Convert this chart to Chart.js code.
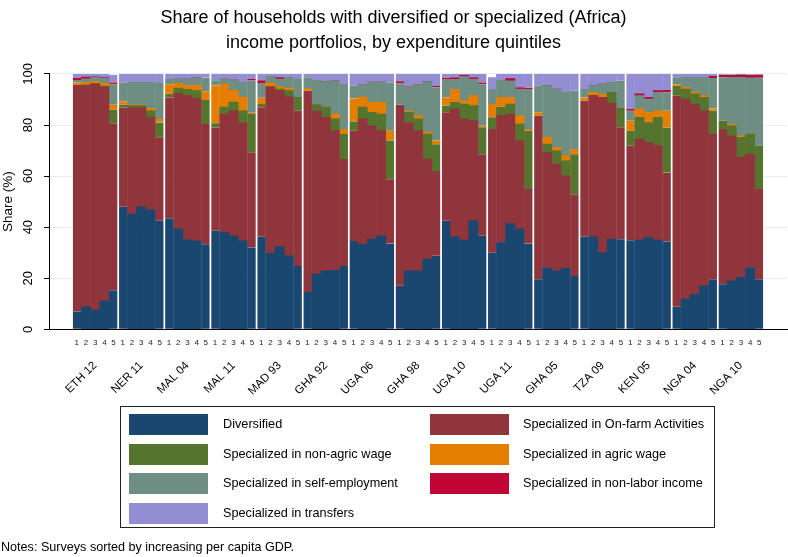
<!DOCTYPE html>
<html>
<head>
<meta charset="utf-8">
<script src="https://cdn.jsdelivr.net/npm/chart.js@4"></script>
<style>
  body { margin: 0; background: #fff; font-family: 'Liberation Sans', Arial, sans-serif; }
  #wrap { position: relative; width: 788px; height: 557px; }
  #legend { position: absolute; left: 120px; top: 406px; width: 593px; height: 120px; border: 1px solid #222; }
  .sw { position: absolute; width: 79px; height: 21px; }
  .lt { position: absolute; font-size: 12.7px; color: #000; line-height: 21px; white-space: nowrap; }
  #notes { position: absolute; left: 1px; top: 540px; font-size: 12.6px; color: #000; }
</style>
</head>
<body>
<div id="wrap">
  <canvas id="chart"></canvas>
  <div id="legend"></div>
  <div id="notes">Notes: Surveys sorted by increasing per capita GDP.</div>
</div>
<script>
const surveys = ['ETH 12', 'NER 11', 'MAL 04', 'MAL 11', 'MAD 93', 'GHA 92', 'UGA 06', 'GHA 98',
                 'UGA 10', 'UGA 11', 'GHA 05', 'TZA 09', 'KEN 05', 'NGA 04', 'NGA 10'];
const quintiles = ['1', '2', '3', '4', '5'];
const yTicks = [0, 20, 40, 60, 80, 100];

// one line per survey, quintiles 1..5
const diversified = [
  7.0, 8.8, 7.5, 11.0, 15.3,
  48.0, 45.1, 48.0, 46.8, 42.5,
  43.5, 39.2, 35.0, 34.6, 33.3,
  38.6, 38.0, 36.6, 34.6, 32.0,
  36.2, 29.7, 32.3, 28.8, 24.8,
  14.6, 21.6, 22.9, 23.1, 24.8,
  34.6, 33.3, 35.3, 36.6, 33.6,
  17.0, 22.9, 22.9, 27.5, 28.8,
  42.5, 36.2, 34.9, 42.5, 36.6,
  30.0, 34.0, 41.4, 39.2, 33.6,
  19.6, 24.2, 22.9, 23.9, 20.9,
  36.2, 36.2, 30.0, 35.3, 35.3,
  34.9, 34.9, 35.9, 34.9, 34.4,
  8.8, 11.8, 13.7, 17.0, 19.6,
  17.6, 19.0, 20.3, 24.2, 19.6
];
const onFarm = [
  88.8, 86.8, 88.5, 84.0, 65.4,
  38.9, 41.6, 38.7, 36.2, 32.7,
  47.3, 53.2, 56.5, 55.9, 47.1,
  40.4, 46.3, 49.0, 46.4, 37.3,
  50.8, 65.3, 61.2, 62.2, 60.8,
  78.9, 64.0, 60.1, 54.7, 41.9,
  43.2, 49.1, 44.4, 41.2, 25.2,
  71.0, 58.1, 54.9, 39.2, 33.2,
  42.5, 50.1, 47.5, 39.2, 32.0,
  48.4, 49.7, 42.9, 34.7, 21.3,
  64.1, 45.1, 41.8, 36.2, 32.0,
  53.3, 55.3, 60.8, 53.2, 43.8,
  37.0, 39.6, 37.3, 37.0, 27.0,
  82.7, 78.4, 74.5, 68.6, 56.9,
  60.8, 56.8, 47.0, 44.4, 35.3
];
const nonAgricWage = [
  0.0, 0.0, 0.3, 0.3, 5.3,
  1.1, 0.9, 0.9, 2.6, 5.8,
  1.4, 2.1, 2.5, 3.0, 9.4,
  1.7, 2.7, 3.4, 4.6, 15.0,
  1.2, 0.0, 0.6, 2.5, 5.4,
  0.0, 2.4, 4.0, 4.6, 9.8,
  3.6, 4.6, 5.3, 6.5, 15.1,
  0.0, 4.0, 4.6, 9.8, 10.5,
  2.6, 2.6, 5.8, 5.9, 10.5,
  4.6, 3.2, 3.9, 6.5, 22.9,
  0.0, 3.2, 5.2, 5.9, 15.7,
  0.0, 0.0, 0.0, 4.3, 7.9,
  5.9, 8.5, 7.8, 11.1, 17.6,
  3.9, 3.9, 4.0, 5.2, 9.1,
  3.3, 3.9, 7.9, 7.9, 17.0
];
const agricWage = [
  0.9, 1.0, 0.8, 1.0, 1.9,
  1.3, 0.3, 0.3, 0.9, 1.4,
  3.8, 1.8, 1.5, 2.0, 3.4,
  14.8, 9.0, 4.6, 5.4, 0.5,
  2.5, 1.5, 0.9, 1.0, 0.0,
  1.0, 0.0, 0.0, 1.9, 1.9,
  9.0, 4.0, 3.9, 4.6, 3.9,
  0.0, 0.5, 1.3, 0.7, 1.4,
  3.2, 5.0, 1.3, 3.9, 0.6,
  5.2, 3.9, 2.6, 3.3, 0.6,
  1.3, 2.7, 1.3, 2.0, 2.0,
  1.3, 1.3, 1.2, 0.0, 0.0,
  3.9, 3.3, 3.9, 2.6, 6.6,
  0.6, 0.7, 0.7, 0.7, 0.9,
  0.0, 0.6, 0.6, 0.0, 0.0
];
const selfEmployment = [
  0.9, 1.5, 1.5, 2.0, 8.0,
  7.4, 8.8, 8.8, 10.2, 14.1,
  2.0, 1.7, 2.5, 3.0, 5.4,
  2.0, 2.0, 4.0, 5.7, 12.6,
  5.8, 2.5, 3.0, 4.2, 7.0,
  4.2, 9.5, 10.0, 13.1, 17.7,
  5.0, 4.8, 7.9, 7.9, 18.9,
  8.4, 9.5, 12.0, 19.8, 20.9,
  7.2, 4.0, 9.5, 6.5, 16.3,
  5.9, 6.7, 6.5, 10.4, 15.7,
  10.4, 20.2, 22.9, 24.8, 22.9,
  3.3, 2.6, 4.0, 3.9, 10.4,
  3.9, 5.2, 5.3, 7.2, 7.2,
  2.7, 3.9, 5.8, 7.2, 11.9,
  17.0, 18.4, 22.9, 22.0, 26.6
];
const nonLaborIncome = [
  0.8, 0.7, 0.3, 0.3, 0.8,
  0, 0, 0, 0, 0,
  0, 0, 0, 0, 0,
  0, 0, 0, 0, 0.6,
  1.0, 0, 0.6, 0, 0,
  0, 0, 0, 0, 0,
  0, 0, 0, 0, 0,
  0.7, 0, 0, 0, 0.5,
  0.6, 0.6, 0.5, 0.6, 0.7,
  0, 0, 0.9, 0.5, 0.6,
  0, 0, 0, 0, 0,
  0, 0, 0, 0, 0,
  0.7, 0.7, 0.6, 0.7, 0.9,
  0, 0, 0, 0, 0.8,
  1.0, 0.8, 0.9, 1.0, 1.2
];
const transfers = [
  1.6, 1.2, 1.1, 1.4, 3.0,
  3.3, 3.3, 3.3, 3.3, 3.5,
  2.0, 2.0, 2.0, 1.5, 1.4,
  2.5, 2.0, 2.4, 3.3, 2.0,
  2.5, 1.0, 1.4, 1.3, 2.0,
  1.3, 2.5, 3.0, 2.6, 3.9,
  4.6, 4.2, 3.2, 3.2, 3.3,
  2.9, 5.0, 4.3, 3.0, 4.7,
  1.4, 1.5, 0.5, 1.4, 3.3,
  4.6, 2.5, 1.8, 5.4, 5.3,
  4.6, 4.6, 5.9, 7.2, 6.5,
  5.9, 4.6, 4.0, 3.3, 2.6,
  13.7, 7.8, 9.2, 6.5, 6.3,
  1.3, 1.3, 1.3, 1.3, 0.8,
  0.3, 0.3, 0.3, 0.3, 0.3
];

const seriesNames = ['Diversified', 'Specialized in On-farm Activities', 'Specialized in non-agric wage',
  'Specialized in agric wage', 'Specialized in self-employment', 'Specialized in non-labor income',
  'Specialized in transfers'];
const seriesColors = ['#1a476f', '#90353b', '#55752f', '#e37e00', '#6e8e84', '#c10534', '#938dd2'];
const seriesData = [diversified, onFarm, nonAgricWage, agricWage, selfEmployment, nonLaborIncome, transfers];

// empty slots at each end give the margin between the axes and the bars
const padSlots = ['', '', ''];
const xLabels = [...padSlots, ...surveys.flatMap(() => quintiles), ...padSlots];
const groupLabels = [...padSlots, ...surveys.flatMap(s => ['', '', s, '', '']), ...padSlots];
const padNulls = padSlots.map(() => null);

const datasets = seriesData.map((vals, i) => ({
  label: seriesNames[i],
  data: [...padNulls, ...vals, ...padNulls],
  backgroundColor: seriesColors[i],
  borderColor: '#fff',
  borderSkipped: false,
  borderWidth: ctx => {
    const q = (ctx.dataIndex - padSlots.length) % 5;
    return { top: 0, bottom: 0, left: q === 0 ? 1.2 : 0, right: q === 4 ? 1.2 : 0 };
  },
  barPercentage: 1,
  categoryPercentage: 1,
  stack: 'share'
}));

// Stata-style vertical y tick labels
const yLabelPlugin = {
  id: 'yLabels',
  afterDraw(chart) {
    const s = chart.scales.y;
    const ctx = chart.ctx;
    ctx.save();
    ctx.font = '13px "Liberation Sans", Arial, sans-serif';
    ctx.fillStyle = '#000';
    ctx.textAlign = 'center';
    ctx.textBaseline = 'middle';
    s.ticks.forEach(t => {
      ctx.save();
      ctx.translate(s.right - 21, s.getPixelForValue(t.value));
      ctx.rotate(-Math.PI / 2);
      ctx.fillText(String(t.value), 0, 0);
      ctx.restore();
    });
    ctx.restore();
  }
};

const noSidePadding = s => { s.paddingLeft = 0; s.paddingRight = 0; };

new Chart(document.getElementById('chart'), {
  type: 'bar',
  data: { labels: xLabels, datasets: datasets },
  options: {
    responsive: true,
    maintainAspectRatio: false,
    animation: false,
    layout: { padding: { left: 0, right: 1, top: 0, bottom: 157 } },
    plugins: {
      legend: { display: false },
      tooltip: { enabled: false },
      title: {
        display: true,
        text: ['Share of households with diversified or specialized (Africa)',
               'income portfolios, by expenditure quintiles'],
        color: '#000',
        font: { family: '"Liberation Sans", Arial, sans-serif', size: 18, weight: 'normal', lineHeight: 1.36 },
        padding: { top: 6, bottom: 19 }
      }
    },
    scales: {
      x: {
        type: 'category',
        offset: false,
        stacked: true,
        weight: 0,
        afterFit: noSidePadding,
        grid: { display: false, drawTicks: false },
        border: { display: true, color: '#000', width: 1 },
        ticks: {
          autoSkip: false, maxRotation: 0, minRotation: 0, padding: 9,
          color: '#222', font: { family: '"Liberation Sans", Arial, sans-serif', size: 8 }
        }
      },
      x2: {
        type: 'category',
        labels: groupLabels,
        position: 'bottom',
        offset: false,
        weight: 1,
        afterFit: noSidePadding,
        grid: { display: false, drawTicks: false },
        border: { display: false },
        ticks: {
          autoSkip: false, maxRotation: 45, minRotation: 45, padding: 2,
          color: '#000', font: { family: '"Liberation Sans", Arial, sans-serif', size: 11.5 }
        }
      },
      y: {
        stacked: true,
        min: 0,
        max: 100,
        afterFit: s => { s.width = 49; },
        afterBuildTicks: s => { s.ticks = yTicks.map(v => ({ value: v })); },
        grid: { color: '#e6eef0', tickColor: '#000', tickLength: 5, drawTicks: true },
        border: { display: true, color: '#000', width: 1 },
        ticks: { color: 'rgba(0,0,0,0)', font: { size: 13 } },
        title: {
          display: true, text: 'Share (%)', color: '#000', padding: 0,
          font: { family: '"Liberation Sans", Arial, sans-serif', size: 13.5 }
        }
      }
    }
  },
  plugins: [yLabelPlugin]
});

// legend box, two columns as in the original
const legend = document.getElementById('legend');
seriesNames.forEach((name, i) => {
  const row = Math.floor(i / 2), col = i % 2;
  const top = 7 + row * 29.7;
  const sw = document.createElement('div');
  sw.className = 'sw';
  sw.style.left = (col ? 309 : 8) + 'px';
  sw.style.top = top + 'px';
  sw.style.background = seriesColors[i];
  legend.appendChild(sw);
  const lt = document.createElement('div');
  lt.className = 'lt';
  lt.style.left = (col ? 402 : 102) + 'px';
  lt.style.top = top + 'px';
  lt.textContent = name;
  legend.appendChild(lt);
});
</script>
</body>
</html>
